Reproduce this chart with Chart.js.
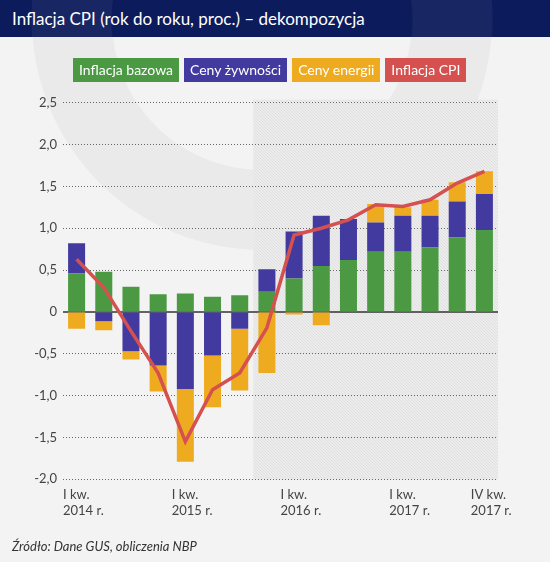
<!DOCTYPE html>
<html>
<head>
<meta charset="utf-8">
<script src="https://cdn.jsdelivr.net/npm/chart.js@4"></script>
<style>
    html, body { margin: 0; padding: 0; }
    body { width: 550px; height: 562px; position: relative; overflow: hidden; background: #f3f3f3; font-family: Lato, sans-serif; }
    #title { position: absolute; left: 0; top: 0; width: 550px; height: 37px; color: #fff; font-size: 17px; line-height: 38px; padding-left: 12px; box-sizing: border-box; z-index: 2;
        background: radial-gradient(circle at 262px 20px, rgba(255,255,255,0) 150px, rgba(255,255,255,0.05) 151px, rgba(255,255,255,0.05) 230px, rgba(255,255,255,0) 231px), #0c1b5c; }
    #legend { position: absolute; left: 73px; top: 58px; display: flex; gap: 5px; z-index: 2; }
    #legend span { display: block; height: 24px; line-height: 24px; padding: 0 6px; color: #fff; font-size: 14px; }
    #source { position: absolute; left: 12px; top: 538px; font-size: 13px; font-style: italic; color: #333; z-index: 2; }
    #chart { position: absolute; left: 0; top: 0; }
</style>
</head>
<body>
<div id="title">Inflacja CPI (rok do roku, proc.) – dekompozycja</div>
<div id="legend"></div>
<canvas id="chart" width="550" height="562"></canvas>
<div id="source">Źródło: Dane GUS, obliczenia NBP</div>
<script>
// kwartaly I kw. 2014 - IV kw. 2017
const quarters = ['I kw. 2014', 'II kw. 2014', 'III kw. 2014', 'IV kw. 2014',
    'I kw. 2015', 'II kw. 2015', 'III kw. 2015', 'IV kw. 2015',
    'I kw. 2016', 'II kw. 2016', 'III kw. 2016', 'IV kw. 2016',
    'I kw. 2017', 'II kw. 2017', 'III kw. 2017', 'IV kw. 2017'];
const tickLabels = {0: ['I kw.', '2014 r.'], 4: ['I kw.', '2015 r.'], 8: ['I kw.', '2016 r.'], 12: ['I kw.', '2017 r.'], 15: ['IV kw.', '2017 r.']};

const bazowa   = [0.46, 0.48, 0.30, 0.21, 0.22, 0.18, 0.20, 0.24, 0.40, 0.55, 0.62, 0.72, 0.72, 0.77, 0.89, 0.98];
const zywnosc  = [0.36, -0.11, -0.47, -0.64, -0.92, -0.52, -0.20, 0.27, 0.56, 0.60, 0.49, 0.35, 0.43, 0.38, 0.43, 0.43];
const energia  = [-0.20, -0.11, -0.10, -0.31, -0.87, -0.62, -0.74, -0.73, -0.03, -0.16, 0.00, 0.22, 0.10, 0.19, 0.23, 0.27];
const cpi      = [0.63, 0.29, -0.23, -0.73, -1.55, -0.93, -0.73, -0.19, 0.92, 1.00, 1.10, 1.28, 1.26, 1.34, 1.54, 1.68];

const shadeFrom = 7; // od IV kw. 2015 tlo kreskowane

const colors = { bazowa: '#4b9a43', zywnosc: '#433a9f', energia: '#eeab1f', cpi: '#d4514f' };

// legenda jako kolorowe etykiety
const legendItems = [['Inflacja bazowa', colors.bazowa], ['Ceny żywności', colors.zywnosc], ['Ceny energii', colors.energia], ['Inflacja CPI', colors.cpi]];
document.getElementById('legend').innerHTML = legendItems.map(([t, c]) => `<span style="background:${c}">${t}</span>`).join('');

function makePattern(ctx) {
    const p = document.createElement('canvas');
    p.width = 3; p.height = 3;
    const c = p.getContext('2d');
    c.fillStyle = '#ececec';
    c.fillRect(0, 0, 3, 3);
    c.fillStyle = '#e0e0e0';
    c.fillRect(0, 0, 1, 1);
    c.fillRect(1, 1, 1, 1);
    c.fillRect(2, 2, 1, 1);
    return ctx.createPattern(p, 'repeat');
}

const backgroundPlugin = {
    id: 'background',
    beforeDraw(chart) {
        const { ctx, chartArea, scales } = chart;
        ctx.save();
        // znak wodny
        ctx.beginPath();
        ctx.arc(262, 20, 230, 0, Math.PI * 2);
        ctx.arc(262, 20, 150, 0, Math.PI * 2, true);
        ctx.fillStyle = 'rgba(0,0,0,0.035)';
        ctx.fill();
        // obszar kreskowany
        const x0 = (scales.x.getPixelForValue(shadeFrom - 1) + scales.x.getPixelForValue(shadeFrom)) / 2;
        ctx.fillStyle = makePattern(ctx);
        ctx.fillRect(x0, chartArea.top - 3, chartArea.right - x0, chartArea.bottom - chartArea.top + 3);
        ctx.restore();
    },
    beforeDatasetsDraw(chart) {
        const { ctx, chartArea, scales } = chart;
        const y = scales.y.getPixelForValue(0);
        ctx.save();
        ctx.strokeStyle = '#333';
        ctx.lineWidth = 1.5;
        ctx.beginPath();
        ctx.moveTo(chartArea.left, y);
        ctx.lineTo(chartArea.right, y);
        ctx.stroke();
        ctx.restore();
    }
};

const tickFont = { family: 'Lato', size: 13, lineHeight: 1.28 };

new Chart(document.getElementById('chart'), {
    data: {
        labels: quarters,
        datasets: [
            { type: 'line', label: 'Inflacja CPI', data: cpi, borderColor: colors.cpi, borderWidth: 3.5, pointRadius: 0, tension: 0, stack: 'cpi', order: 0 },
            { type: 'bar', label: 'Inflacja bazowa', data: bazowa, backgroundColor: colors.bazowa, stack: 's', order: 1 },
            { type: 'bar', label: 'Ceny żywności', data: zywnosc, backgroundColor: colors.zywnosc, stack: 's', order: 1 },
            { type: 'bar', label: 'Ceny energii', data: energia, backgroundColor: colors.energia, stack: 's', order: 1 }
        ]
    },
    options: {
        responsive: false,
        animation: false,
        devicePixelRatio: 1,
        datasets: { bar: { barPercentage: 0.626, categoryPercentage: 1 } },
        layout: { padding: { left: 0, top: 102.7, right: 52, bottom: 0 } },
        plugins: { legend: { display: false }, tooltip: { enabled: false } },
        scales: {
            x: {
                stacked: true,
                grid: { display: false, drawTicks: false },
                border: { display: false },
                ticks: {
                    autoSkip: false, maxRotation: 0, align: 'start', labelOffset: -13.6, padding: 7,
                    color: '#444', font: tickFont,
                    callback: (v, i) => tickLabels[i] || ''
                },
                afterFit: (s) => { s.height = 82.7; }
            },
            y: {
                stacked: true,
                min: -2, max: 2.5,
                grid: { color: (c) => c.tick.value === 0 ? 'rgba(0,0,0,0)' : '#666', lineWidth: 1, drawTicks: false },
                border: { display: false, dash: [1, 2] },
                ticks: {
                    stepSize: 0.5, padding: 6, color: '#444', font: tickFont,
                    callback: (v) => v === 0 ? '0' : v.toFixed(1).replace('.', ',')
                },
                afterFit: (s) => { s.width = 63; }
            }
        }
    },
    plugins: [backgroundPlugin]
});
</script>
</body>
</html>
